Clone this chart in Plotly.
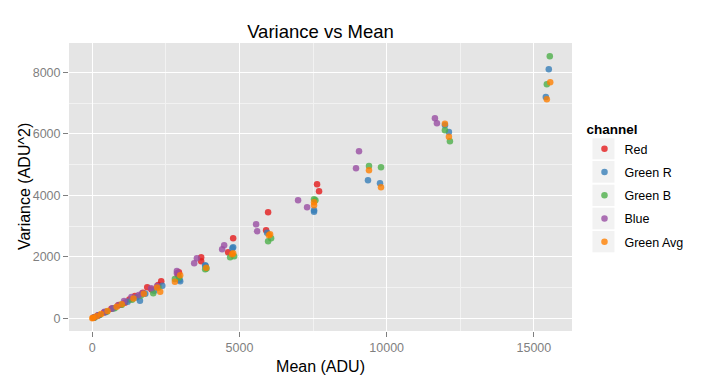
import plotly.graph_objects as go

# ---- data ----
channels = ["Red", "Green R", "Green B", "Blue", "Green Avg"]
colors = ["#E41A1C", "#377EB8", "#4DAF4A", "#984EA3", "#FF7F00"]

red_mean = [40, 190, 400, 650, 900, 1110, 1260, 1449, 1720, 1866, 2010, 2240, 2341,
            2908, 2942, 3699, 3699, 4615, 4785, 5904, 5972, 7635, 7703]
red_var = [20, 95, 190, 310, 430, 508, 610, 725, 830, 1008, 940, 1080, 1203,
           1418, 1496, 1854, 1984, 2146, 2602, 2862, 3447, 4358, 4130]

greenr_mean = [60, 220, 450, 700, 980, 1200, 1500, 1619, 1800, 2100, 2380,
               2986, 2960, 3834, 3850, 4785, 4760, 5938, 7533, 7533, 9365, 9773,
               11980, 12114, 15405, 15507]
greenr_var = [25, 100, 200, 320, 440, 540, 680, 573, 800, 900, 1060,
              1203, 1250, 1724, 1700, 2309, 2280, 2784, 3512, 3467, 4488, 4390,
              6280, 6059, 7197, 8098]

greenb_mean = [80, 250, 500, 760, 1000, 1350, 1650, 2070, 2250,
               2806, 2950, 3834, 3880, 4683, 4818, 5972, 6074, 7533, 7580,
               9399, 9807, 11978, 12148, 15440, 15541]
greenb_var = [30, 110, 220, 330, 440, 600, 740, 813, 1000,
              1278, 1330, 1593, 1620, 1984, 2016, 2504, 2602, 3870, 3837,
              4953, 4911, 6114, 5756, 7610, 8520]

blue_mean = [50, 200, 420, 680, 870, 1080, 1330, 1580, 1697, 2000, 2200,
             2874, 2874, 3461, 3553, 4411, 4479, 5565, 5599, 6990, 7296,
             8958, 9060, 11639, 11707]
blue_var = [25, 100, 210, 330, 420, 560, 690, 760, 813, 980, 1050,
            1463, 1538, 1789, 1951, 2244, 2374, 3057, 2829, 3837, 3610,
            4878, 5431, 6504, 6341]

greenavg_mean = [0, 34, 150, 300, 520, 828, 1000, 1400, 1750, 2200, 2307,
                 2806, 2986, 3868, 4750, 4785, 6000, 6040, 7533, 7533,
                 9399, 9807, 11978, 12114, 15440, 15555]
greenavg_var = [0, 15, 70, 140, 240, 377, 460, 640, 800, 1000, 865,
                1190, 1398, 1646, 2080, 2114, 2700, 2732, 3772, 3675,
                4813, 4260, 6329, 5906, 7122, 7675]

means = [red_mean, greenr_mean, greenb_mean, blue_mean, greenavg_mean]
variances = [red_var, greenr_var, greenb_var, blue_var, greenavg_var]

x_ticks = [0, 5000, 10000, 15000]
y_ticks = [0, 2000, 4000, 6000, 8000]

FONT = "Liberation Sans, Arial, sans-serif"

fig = go.Figure()
for name, col, xs, ys in zip(channels, colors, means, variances):
    fig.add_trace(go.Scatter(
        x=xs, y=ys, mode="markers", name=name, legendgroup=name,
        marker=dict(color=col, size=6.5, opacity=0.8, line=dict(width=0)),
    ))

# plot geometry in pixels
W, H = 720, 384
L, R, T, B = 69, 572.5, 43, 331
pw, ph = R - L, B - T

def px2paper_x(px):
    return (px - L) / pw

def px2paper_y(py):
    return (B - py) / ph

# grey legend key boxes (decorative)
box_tops = [138.3, 161.0, 184.7, 207.7, 231.0]
box_bots = [159.3, 182.7, 206.0, 229.3, 252.3]
shapes = []
for t, b in zip(box_tops, box_bots):
    shapes.append(dict(type="rect", xref="paper", yref="paper",
                       x0=px2paper_x(593), x1=px2paper_x(615),
                       y0=px2paper_y(b), y1=px2paper_y(t),
                       fillcolor="#F2F2F2", line=dict(width=0), layer="above"))

fig.update_layout(
    width=W, height=H,
    margin=dict(l=L, r=W - R, t=T, b=H - B, autoexpand=False),
    paper_bgcolor="white", plot_bgcolor="#E5E5E5",
    font=dict(family=FONT, color="black"),
    title=dict(text="Variance vs Mean", x=0.5, xref="paper", xanchor="center",
               y=1 - 32 / H, yref="container", yanchor="middle",
               font=dict(size=18.5, color="black", family=FONT)),
    showlegend=True,
    legend=dict(
        x=px2paper_x(585), xanchor="left",
        y=px2paper_y(116.5), yanchor="top",
        bgcolor="rgba(0,0,0,0)", borderwidth=0,
        tracegroupgap=4,
        font=dict(size=12.5, color="black", family=FONT),
        title=dict(text="<b>channel</b>", font=dict(size=13.5, color="black", family=FONT)),
        itemclick=False,
    ),
    shapes=shapes,
    annotations=[dict(text="Variance (ADU^2)", textangle=-90, showarrow=False,
                      xref="paper", yref="paper", x=px2paper_x(24), y=0.5,
                      xanchor="center", yanchor="middle",
                      font=dict(size=16, color="black", family=FONT))],
)

fig.update_xaxes(
    range=[-791, 16295], tickmode="array", tickvals=x_ticks,
    ticktext=[str(v) for v in x_ticks],
    showgrid=True, gridcolor="white", gridwidth=1.3,
    minor=dict(dtick=2500, tick0=0, showgrid=True, gridcolor="#F2F2F2", gridwidth=0.6, ticks=""),
    zeroline=False, showline=False,
    ticks="outside", ticklen=5, tickwidth=1, tickcolor="#7F7F7F",
    tickfont=dict(size=12.5, color="#7F7F7F", family=FONT),
    title=dict(text="Mean (ADU)", font=dict(size=16, color="black", family=FONT), standoff=6),
)
fig.update_yaxes(
    range=[-413, 8953], tickmode="array", tickvals=y_ticks,
    ticktext=[str(v) for v in y_ticks],
    showgrid=True, gridcolor="white", gridwidth=1.3,
    minor=dict(dtick=1000, tick0=0, showgrid=True, gridcolor="#F2F2F2", gridwidth=0.6, ticks=""),
    zeroline=False, showline=False,
    ticks="outside", ticklen=5, tickwidth=1, tickcolor="#7F7F7F",
    tickfont=dict(size=12.5, color="#7F7F7F", family=FONT),
)

fig.write_html("out.html", config={"displayModeBar": False},
               post_script="document.body.style.margin='0px';document.body.style.padding='0px';")
